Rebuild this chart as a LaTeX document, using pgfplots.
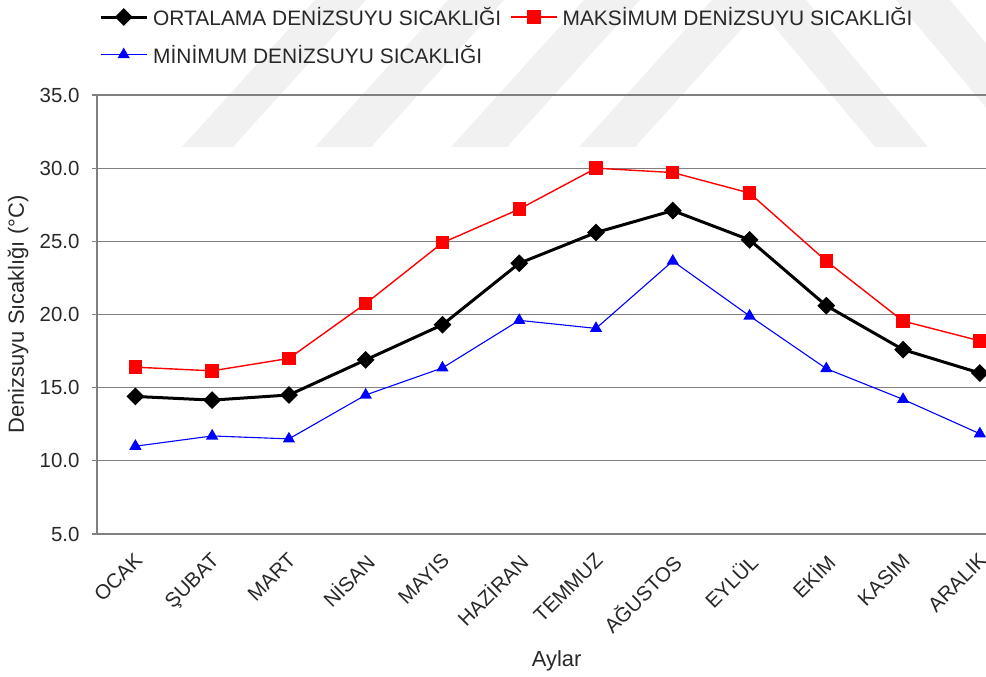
\documentclass[border=0pt]{standalone}
\usepackage{fontspec}
\setmainfont{Liberation Sans}
\usepackage{pgfplots}
\pgfplotsset{compat=1.18}
\definecolor{gridgray}{RGB}{128,128,128}
\definecolor{txt}{RGB}{40,40,40}
\definecolor{wm}{RGB}{241,241,241}
\begin{document}
\begin{tikzpicture}
\useasboundingbox (-97bp,-143bp) rectangle (889bp,534bp);
% faint background watermark stripes
\fill[wm] (85bp,387bp) -- (136bp,387bp) -- (269bp,534bp) -- (218bp,534bp) -- cycle;
\fill[wm] (218bp,387bp) -- (274bp,387bp) -- (407bp,534bp) -- (351bp,534bp) -- cycle;
\fill[wm] (354bp,387bp) -- (410bp,387bp) -- (543bp,534bp) -- (487bp,534bp) -- cycle;
\fill[wm] (482bp,387bp) -- (538bp,387bp) -- (671bp,534bp) -- (615bp,534bp) -- cycle;
\fill[wm] (655bp,534bp) -- (709bp,534bp) -- (831bp,387bp) -- (778bp,387bp) -- cycle;
\fill[wm] (799bp,534bp) -- (853bp,534bp) -- (976bp,387bp) -- (922bp,387bp) -- cycle;
\begin{axis}[
  at={(0,0)}, anchor=south west,
  scale only axis, width=889bp, height=439bp,
  xmin=-0.5, xmax=11.08, ymin=5, ymax=35,
  ytick={5,10,...,35},
  xtick={0,...,11},
  xticklabels={OCAK,ŞUBAT,MART,NİSAN,MAYIS,HAZİRAN,TEMMUZ,AĞUSTOS,EYLÜL,EKİM,KASIM,ARALIK},
  axis x line*=bottom, axis y line*=left,
  axis line style={gridgray, line width=1.3bp, -},
  ymajorgrids, grid style={gridgray, line width=1.3bp},
  tick align=outside, major tick length=5bp,
  xtick style={draw=none},
  ytick style={gridgray, line width=1.3bp},
  /pgf/number format/assume math mode=true,
  yticklabel style={/pgf/number format/.cd, fixed, fixed zerofill, precision=1, /tikz/.cd,
    font=\fontsize{20.5}{20.5}\selectfont, text=txt, xshift=-9bp},
  xticklabel style={xshift=-2bp, yshift=-8bp, rotate=45, anchor=north east, font=\fontsize{20.5}{20.5}\selectfont, text=txt},
  xlabel={Aylar}, ylabel={Denizsuyu Sıcaklığı (°C)},
  xlabel style={at={(axis description cs:0.517,0)}, yshift=-127bp, anchor=center, font=\fontsize{22}{22}\selectfont, text=txt},
  ylabel style={at={(axis description cs:0,0.5)}, yshift=79bp, anchor=center, font=\fontsize{22}{22}\selectfont, text=txt},
  legend columns=2,
  legend cell align=left,
  legend image code/.code={\draw[mark repeat=2, mark phase=2] plot coordinates {(0bp,0bp) (23bp,0bp) (46bp,0bp)};},
  legend style={at={(axis description cs:0,1)}, xshift=-1bp, yshift=91bp, anchor=north west,
    draw=none, fill=none, font=\fontsize{21}{21}\selectfont, text=txt,
    row sep=16bp, nodes={inner sep=1bp},
    /tikz/every odd column/.append style={column sep=4bp},
    /tikz/every even column/.append style={column sep=8bp}},
  clip=false,
]
\addplot[black, line width=3bp, mark=square*, mark size=4.8bp, mark options={rotate=45, solid}]
  coordinates {(0,14.4) (1,14.15) (2,14.5) (3,16.9) (4,19.3) (5,23.5) (6,25.6) (7,27.1) (8,25.1) (9,20.6) (10,17.6) (11,16.0)};
\addlegendentry{ORTALAMA DENİZSUYU SICAKLIĞI}
\addplot[red, line width=1.4bp, mark=square*, mark size=6bp, mark options={solid}]
  coordinates {(0,16.4) (1,16.15) (2,17.0) (3,20.75) (4,24.9) (5,27.2) (6,30.0) (7,29.7) (8,28.3) (9,23.65) (10,19.55) (11,18.2)};
\addlegendentry{MAKSİMUM DENİZSUYU SICAKLIĞI}
\addplot[blue, line width=1.1bp, mark=triangle*, mark size=6bp, mark options={solid}]
  coordinates {(0,11.0) (1,11.7) (2,11.5) (3,14.5) (4,16.35) (5,19.6) (6,19.05) (7,23.65) (8,19.9) (9,16.3) (10,14.2) (11,11.85)};
\addlegendentry{MİNİMUM DENİZSUYU SICAKLIĞI}
\end{axis}
\end{tikzpicture}
\end{document}
